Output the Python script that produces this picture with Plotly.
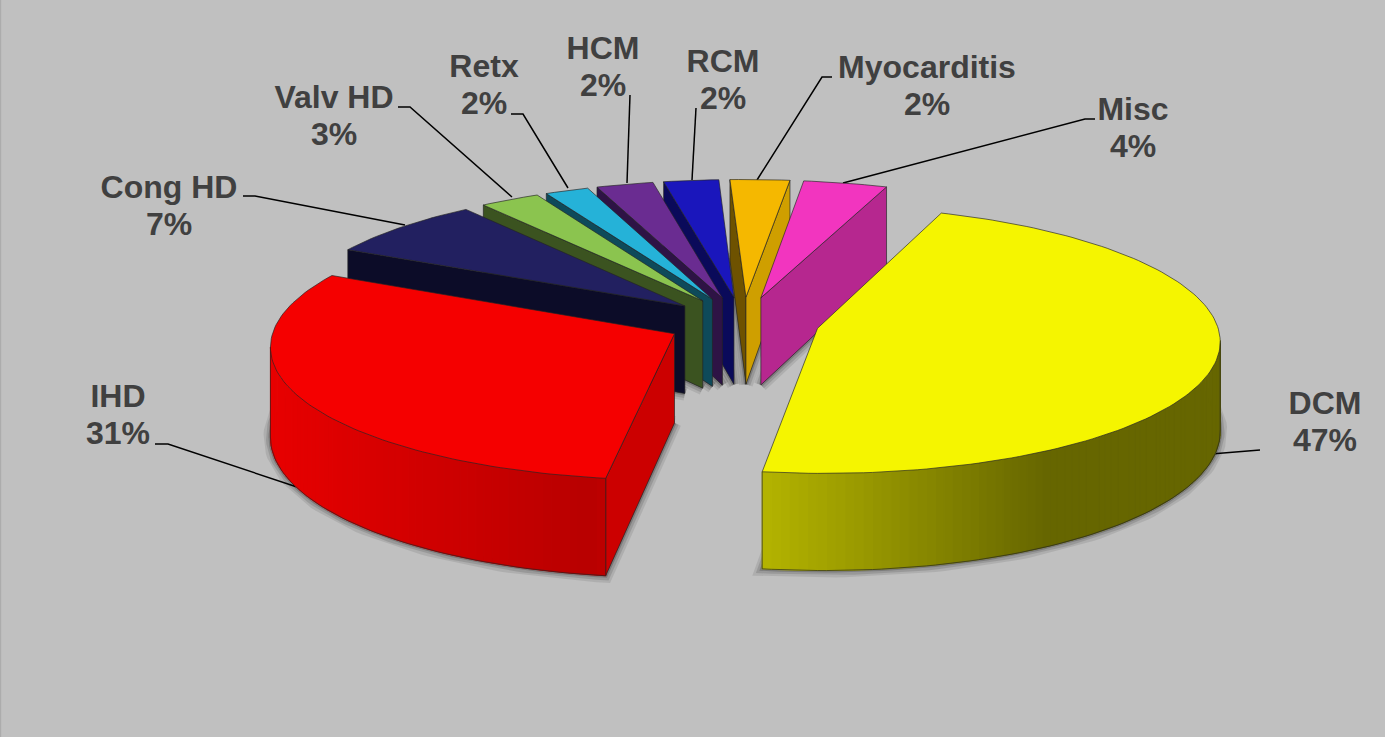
import math
import plotly.graph_objects as go

# ---- data ----
categories = ["DCM", "IHD", "Cong HD", "Valv HD", "Retx", "HCM", "RCM", "Myocarditis", "Misc"]
shares = [46.6, 30.2, 7.25, 2.67, 1.94, 2.53, 2.44, 2.64, 3.72]
percent_labels = ["47%", "31%", "7%", "3%", "2%", "2%", "2%", "2%", "4%"]

# ---- styles ----
top_colors = ["#f5f500", "#f50000", "#222060", "#8bc44f", "#25b2d8", "#6a2c91", "#1a16bc", "#f5b800", "#f235bf"]
start_face = ["#b4b400", "#cc0000", "#0c0c28", "#3b5320", "#0e4a5a", "#2e1345", "#0a0a5a", "#6e5200", "#b6278f"]
end_face = ["#666600", "#cc0000", "#0c0c28", "#3b5320", "#0e4a5a", "#2e1345", "#0a0a5a", "#cf9f00", "#b6278f"]
side_ramp = {
    "DCM": [(763, (0xb4, 0xb4, 0x00)), (1045, (0x66, 0x66, 0x00)), (1230, (0x66, 0x66, 0x00))],
    "IHD": [(268, (0xe8, 0x00, 0x00)), (590, (0xb8, 0x00, 0x00)), (610, (0xc0, 0x00, 0x00))],
}
label_pos = {
    "DCM": (1325, 406), "IHD": (118, 399), "Cong HD": (169, 190), "Valv HD": (334, 100),
    "Retx": (484, 69), "HCM": (603, 51), "RCM": (723, 64), "Myocarditis": (927, 70), "Misc": (1133, 112),
}
leaders = {
    "DCM": [(1260, 450), (1211, 454)],
    "IHD": [(155, 444), (168, 444), (300, 488)],
    "Cong HD": [(243, 196), (255, 196), (405, 225)],
    "Valv HD": [(398, 107), (410, 107), (512, 197)],
    "Retx": [(511, 114), (523, 114), (568, 188)],
    "HCM": [(630, 95), (627, 183)],
    "RCM": [(696, 108), (692, 180)],
    "Myocarditis": [(832, 77), (822, 77), (757, 180)],
    "Misc": [(1095, 119), (1085, 119), (843, 183)],
}
BG = "#c0c0c0"
EDGE = "rgba(35,35,35,0.65)"

# ---- projection of the tilted pie ----
CX, CY, S, K, A, B = 743, 322, 399, 0.085, 0.33, 0.94
THICK, EXPLODE, START = 0.236, 0.192, 20.4


def proj(X, Y, Z):
    w = 1 + K * Y
    return CX + S * X / w, CY - S * (A * Y + B * Z) / w


def ramp_color(stops, x):
    if x <= stops[0][0]:
        c = stops[0][1]
    elif x >= stops[-1][0]:
        c = stops[-1][1]
    else:
        for (x0, c0), (x1, c1) in zip(stops, stops[1:]):
            if x0 <= x <= x1:
                t = (x - x0) / (x1 - x0)
                c = tuple(c0[i] + (c1[i] - c0[i]) * t for i in range(3))
                break
    return "rgb(%d,%d,%d)" % tuple(round(v) for v in c)


def area(p):
    return sum(p[i][0] * p[(i + 1) % len(p)][1] - p[(i + 1) % len(p)][0] * p[i][1] for i in range(len(p)))


def poly(p, fill, line="rgba(0,0,0,0)", lw=0.0):
    xs = [q[0] for q in p] + [p[0][0]]
    ys = [q[1] for q in p] + [p[0][1]]
    return go.Scatter(x=xs, y=ys, mode="lines", fill="toself", fillcolor=fill,
                      line=dict(color=line, width=lw), hoverinfo="skip", showlegend=False)


def path(p, color, lw):
    return go.Scatter(x=[q[0] for q in p], y=[q[1] for q in p], mode="lines",
                      line=dict(color=color, width=lw), hoverinfo="skip", showlegend=False)


total = sum(shares)
slices = []
angle = START
for i, name in enumerate(categories):
    sweep = 360 * shares[i] / total
    slices.append(dict(i=i, name=name, a0=angle, a1=angle + sweep))
    angle += sweep
for s in slices:
    mid = math.radians((s["a0"] + s["a1"]) / 2)
    s["ox"], s["oy"] = EXPLODE * math.sin(mid), EXPLODE * math.cos(mid)
    n = max(4, int((s["a1"] - s["a0"]) / 1.2))
    thetas = [math.radians(s["a0"] + (s["a1"] - s["a0"]) * j / n) for j in range(n + 1)]
    s["rim"] = [(s["ox"] + math.sin(t), s["oy"] + math.cos(t)) for t in thetas]

fig = go.Figure()

# soft floor shadows
for s in slices:
    floor = [proj(s["ox"], s["oy"], -THICK)] + [proj(X, Y, -THICK) for X, Y in s["rim"]]
    floor.append(floor[0])
    for lw, al in ((14, 0.09), (9, 0.12), (4, 0.18)):
        fig.add_trace(path(floor, "rgba(0,0,0,%.2f)" % al, lw))
    fig.add_trace(poly(floor, "rgba(0,0,0,0.35)"))

# leader lines
for name in categories:
    fig.add_trace(path(leaders[name], "#000000", 1.5))

# slices, furthest first
for s in sorted(slices, key=lambda d: -d["oy"]):
    i = s["i"]
    ct, cb = proj(s["ox"], s["oy"], 0), proj(s["ox"], s["oy"], -THICK)
    rim_t = [proj(X, Y, 0) for X, Y in s["rim"]]
    rim_b = [proj(X, Y, -THICK) for X, Y in s["rim"]]
    # radial cut faces
    q0 = [ct, rim_t[0], rim_b[0], cb]
    if area(q0) < 0:
        fig.add_trace(poly(q0, start_face[i], EDGE, 1))
    q1 = [ct, rim_t[-1], rim_b[-1], cb]
    if area(q1) > 0:
        fig.add_trace(poly(q1, end_face[i], EDGE, 1))
    # outer wall strips
    vis = []
    for j in range(len(rim_t) - 1):
        q = [rim_t[j], rim_t[j + 1], rim_b[j + 1], rim_b[j]]
        if area(q) < 0:
            xm = (rim_t[j][0] + rim_t[j + 1][0]) / 2
            c = ramp_color(side_ramp[s["name"]], xm) if s["name"] in side_ramp else end_face[i]
            fig.add_trace(poly(q, c, c, 1))
            vis.append(j)
    if vis:
        lo = rim_b[vis[0]:vis[-1] + 2]
        fig.add_trace(path(lo, EDGE, 1))
        fig.add_trace(path([rim_t[vis[0]], rim_b[vis[0]]], EDGE, 1))
        fig.add_trace(path([rim_t[vis[-1] + 1], rim_b[vis[-1] + 1]], EDGE, 1))
    # top
    fig.add_trace(poly([ct] + rim_t, top_colors[i], EDGE, 1))

# labels
font = dict(family="Liberation Sans", size=32, color="#404040")
fig.add_trace(go.Scatter(x=[label_pos[n][0] for n in categories], y=[label_pos[n][1] for n in categories],
                         mode="text", text=["<b>%s</b>" % n for n in categories], textfont=font,
                         textposition="middle center", hoverinfo="skip", showlegend=False))
fig.add_trace(go.Scatter(x=[label_pos[n][0] for n in categories], y=[label_pos[n][1] + 37 for n in categories],
                         mode="text", text=["<b>%s</b>" % p for p in percent_labels], textfont=font,
                         textposition="middle center", hoverinfo="skip", showlegend=False))

fig.update_layout(
    width=1385, height=737, margin=dict(l=0, r=0, t=0, b=0), paper_bgcolor=BG, plot_bgcolor=BG,
    showlegend=False,
    xaxis=dict(range=[0, 1385], visible=False, fixedrange=True),
    yaxis=dict(range=[737, 0], visible=False, fixedrange=True),
    shapes=[dict(type="line", xref="paper", yref="paper", x0=0.0005, x1=0.0005, y0=0, y1=1,
                 line=dict(color="#a8a8a8", width=1))],
)
fig.write_html("out.html", config=dict(displayModeBar=False),
               post_script="document.body.style.margin='0';document.body.style.overflow='hidden';")
